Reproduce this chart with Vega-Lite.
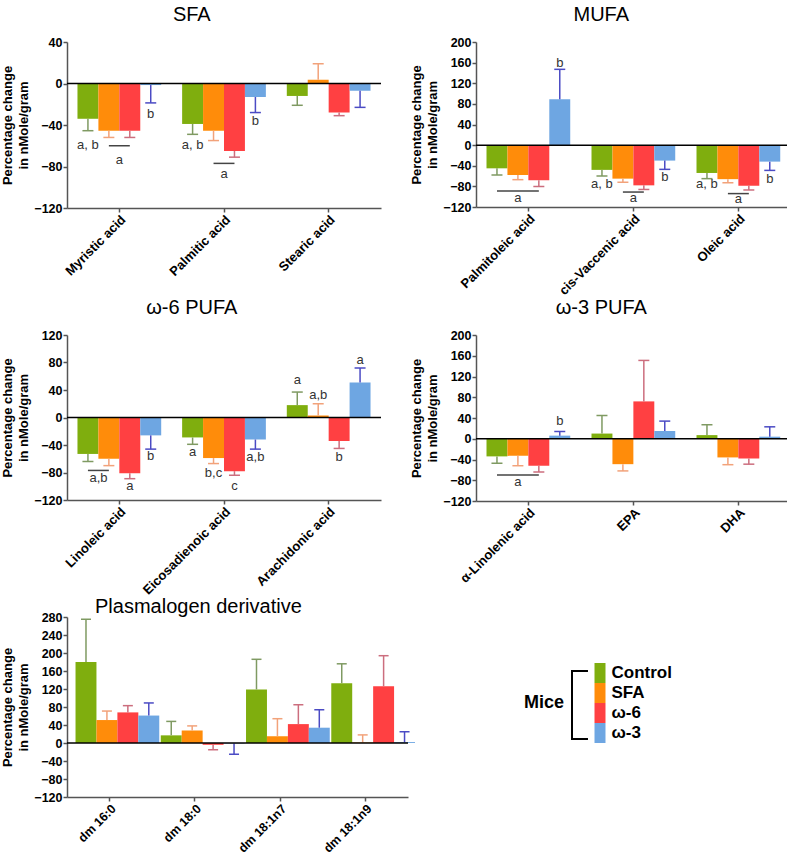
{
"$schema": "https://vega.github.io/schema/vega-lite/v6.json",
"background": "white",
"padding": {"left": 1, "top": 5, "right": 0, "bottom": 0},
"config": {
  "font": "Liberation Sans",
  "view": {"stroke": null},
  "title": {"font": "Liberation Sans", "fontSize": 20, "fontWeight": "normal", "color": "black", "offset": 11, "frame": "bounds"},
  "axis": {"labelFont": "Liberation Sans", "labelFontWeight": "bold", "labelFontSize": 12.5, "labelColor": "black", "labelOverlap": false, "labelPadding": 1, "titleFont": "Liberation Sans", "titleFontSize": 13, "titleFontWeight": "bold", "titleColor": "black", "domainColor": "#555", "domainWidth": 1.5, "tickColor": "#555", "tickWidth": 1.5, "tickSize": 4, "grid": false},
  "axisX": {"labelAngle": -45, "title": null, "labelFontSize": 13},
  "axisY": {"titleLineHeight": 16, "titlePadding": 3, "labelOverlap": false, "tickCount": 12},
  "text": {"font": "Liberation Sans", "fontSize": 13, "color": "#333"}
},
"resolve": {"scale": {"color": "independent", "shape": "independent"}, "legend": {"color": "independent", "shape": "independent"}},
"datasets": {
  "sfa": [
    {"acid": "Myristic acid", "group": "Control", "value": -34, "err": -45.5},
    {"acid": "Myristic acid", "group": "SFA", "value": -45.5, "err": -52},
    {"acid": "Myristic acid", "group": "ω-6", "value": -45.5, "err": -52},
    {"acid": "Myristic acid", "group": "ω-3", "value": -1.5, "err": -18.7},
    {"acid": "Palmitic acid", "group": "Control", "value": -39, "err": -49},
    {"acid": "Palmitic acid", "group": "SFA", "value": -45.5, "err": -55},
    {"acid": "Palmitic acid", "group": "ω-6", "value": -65, "err": -71},
    {"acid": "Palmitic acid", "group": "ω-3", "value": -13, "err": -28},
    {"acid": "Stearic acid", "group": "Control", "value": -12, "err": -21},
    {"acid": "Stearic acid", "group": "SFA", "value": 3.5, "err": 19},
    {"acid": "Stearic acid", "group": "ω-6", "value": -28, "err": -31},
    {"acid": "Stearic acid", "group": "ω-3", "value": -7, "err": -23}
  ],
  "sfa_txt": [
    {"acid": "Myristic acid", "group": "Control", "y": -59, "text": "a, b"},
    {"acid": "Myristic acid", "group": "ω-3", "y": -29, "text": "b"},
    {"acid": "Palmitic acid", "group": "Control", "y": -59, "text": "a, b"},
    {"acid": "Palmitic acid", "group": "ω-3", "y": -36.5, "text": "b"}
  ],
  "sfa_mid": [
    {"acid": "Myristic acid", "group": "SFA", "y": -73.5, "text": "a"},
    {"acid": "Palmitic acid", "group": "SFA", "y": -87, "text": "a"}
  ],
  "sfa_line": [
    {"acid": "Myristic acid", "group": "SFA", "y": -60, "id": 1},
    {"acid": "Myristic acid", "group": "ω-6", "y": -60, "id": 1},
    {"acid": "Palmitic acid", "group": "SFA", "y": -77, "id": 2},
    {"acid": "Palmitic acid", "group": "ω-6", "y": -77, "id": 2}
  ],
  "mufa": [
    {"acid": "Palmitoleic acid", "group": "Control", "value": -45, "err": -58},
    {"acid": "Palmitoleic acid", "group": "SFA", "value": -58, "err": -67},
    {"acid": "Palmitoleic acid", "group": "ω-6", "value": -68, "err": -80},
    {"acid": "Palmitoleic acid", "group": "ω-3", "value": 89, "err": 147},
    {"acid": "cis-Vaccenic acid", "group": "Control", "value": -48, "err": -60},
    {"acid": "cis-Vaccenic acid", "group": "SFA", "value": -65, "err": -72},
    {"acid": "cis-Vaccenic acid", "group": "ω-6", "value": -78, "err": -86},
    {"acid": "cis-Vaccenic acid", "group": "ω-3", "value": -30, "err": -47},
    {"acid": "Oleic acid", "group": "Control", "value": -54, "err": -65},
    {"acid": "Oleic acid", "group": "SFA", "value": -66, "err": -73},
    {"acid": "Oleic acid", "group": "ω-6", "value": -79, "err": -87},
    {"acid": "Oleic acid", "group": "ω-3", "value": -32, "err": -49}
  ],
  "mufa_txt": [
    {"acid": "Palmitoleic acid", "group": "ω-3", "y": 160, "text": "b"},
    {"acid": "Palmitoleic acid", "group": "SFA", "y": -102, "text": "a"},
    {"acid": "cis-Vaccenic acid", "group": "Control", "y": -75, "text": "a, b"},
    {"acid": "cis-Vaccenic acid", "group": "ω-3", "y": -62, "text": "b"},
    {"acid": "Oleic acid", "group": "Control", "y": -76, "text": "a, b"},
    {"acid": "Oleic acid", "group": "ω-3", "y": -65, "text": "b"}
  ],
  "mufa_mid": [
    {"acid": "cis-Vaccenic acid", "group": "SFA", "y": -102, "text": "a"},
    {"acid": "Oleic acid", "group": "SFA", "y": -105, "text": "a"}
  ],
  "mufa_line": [
    {"acid": "Palmitoleic acid", "group": "Control", "y": -89, "id": 1},
    {"acid": "Palmitoleic acid", "group": "ω-6", "y": -89, "id": 1},
    {"acid": "cis-Vaccenic acid", "group": "SFA", "y": -91, "id": 2},
    {"acid": "cis-Vaccenic acid", "group": "ω-6", "y": -91, "id": 2},
    {"acid": "Oleic acid", "group": "SFA", "y": -94, "id": 3},
    {"acid": "Oleic acid", "group": "ω-6", "y": -94, "id": 3}
  ],
  "w6": [
    {"acid": "Linoleic acid", "group": "Control", "value": -53, "err": -64},
    {"acid": "Linoleic acid", "group": "SFA", "value": -60, "err": -70},
    {"acid": "Linoleic acid", "group": "ω-6", "value": -81, "err": -89},
    {"acid": "Linoleic acid", "group": "ω-3", "value": -26, "err": -46},
    {"acid": "Eicosadienoic acid", "group": "Control", "value": -29, "err": -39},
    {"acid": "Eicosadienoic acid", "group": "SFA", "value": -59, "err": -67},
    {"acid": "Eicosadienoic acid", "group": "ω-6", "value": -78, "err": -84},
    {"acid": "Eicosadienoic acid", "group": "ω-3", "value": -32, "err": -46},
    {"acid": "Arachidonic acid", "group": "Control", "value": 18, "err": 37},
    {"acid": "Arachidonic acid", "group": "SFA", "value": 3, "err": 20},
    {"acid": "Arachidonic acid", "group": "ω-6", "value": -34, "err": -45},
    {"acid": "Arachidonic acid", "group": "ω-3", "value": 51, "err": 72}
  ],
  "w6_txt": [
    {"acid": "Linoleic acid", "group": "ω-6", "y": -100, "text": "a"},
    {"acid": "Linoleic acid", "group": "ω-3", "y": -56, "text": "b"},
    {"acid": "Eicosadienoic acid", "group": "Control", "y": -50, "text": "a"},
    {"acid": "Eicosadienoic acid", "group": "SFA", "y": -81, "text": "b,c"},
    {"acid": "Eicosadienoic acid", "group": "ω-6", "y": -100, "text": "c"},
    {"acid": "Eicosadienoic acid", "group": "ω-3", "y": -58, "text": "a,b"},
    {"acid": "Arachidonic acid", "group": "Control", "y": 54, "text": "a"},
    {"acid": "Arachidonic acid", "group": "SFA", "y": 33, "text": "a,b"},
    {"acid": "Arachidonic acid", "group": "ω-6", "y": -58, "text": "b"},
    {"acid": "Arachidonic acid", "group": "ω-3", "y": 83, "text": "a"}
  ],
  "w6_mid": [
    {"acid": "Linoleic acid", "group": "Control", "y": -88, "text": "a,b"}
  ],
  "w6_line": [
    {"acid": "Linoleic acid", "group": "Control", "y": -77, "id": 1},
    {"acid": "Linoleic acid", "group": "SFA", "y": -77, "id": 1}
  ],
  "w3": [
    {"acid": "α-Linolenic acid", "group": "Control", "value": -34, "err": -47},
    {"acid": "α-Linolenic acid", "group": "SFA", "value": -33, "err": -52},
    {"acid": "α-Linolenic acid", "group": "ω-6", "value": -52, "err": -64},
    {"acid": "α-Linolenic acid", "group": "ω-3", "value": 6, "err": 14},
    {"acid": "EPA", "group": "Control", "value": 10, "err": 45},
    {"acid": "EPA", "group": "SFA", "value": -49, "err": -62},
    {"acid": "EPA", "group": "ω-6", "value": 72, "err": 151},
    {"acid": "EPA", "group": "ω-3", "value": 15, "err": 34},
    {"acid": "DHA", "group": "Control", "value": 7, "err": 27},
    {"acid": "DHA", "group": "SFA", "value": -36, "err": -50},
    {"acid": "DHA", "group": "ω-6", "value": -38, "err": -49},
    {"acid": "DHA", "group": "ω-3", "value": 4, "err": 23}
  ],
  "w3_txt": [
    {"acid": "α-Linolenic acid", "group": "SFA", "y": -83, "text": "a"},
    {"acid": "α-Linolenic acid", "group": "ω-3", "y": 35, "text": "b"}
  ],
  "w3_line": [
    {"acid": "α-Linolenic acid", "group": "Control", "y": -70, "id": 1},
    {"acid": "α-Linolenic acid", "group": "ω-6", "y": -70, "id": 1}
  ],
  "plas": [
    {"acid": "dm 16:0", "group": "Control", "value": 180, "err": 275},
    {"acid": "dm 16:0", "group": "SFA", "value": 51, "err": 71},
    {"acid": "dm 16:0", "group": "ω-6", "value": 68, "err": 83},
    {"acid": "dm 16:0", "group": "ω-3", "value": 61, "err": 89},
    {"acid": "dm 18:0", "group": "Control", "value": 17, "err": 48},
    {"acid": "dm 18:0", "group": "SFA", "value": 28, "err": 38},
    {"acid": "dm 18:0", "group": "ω-6", "value": -4, "err": -15},
    {"acid": "dm 18:0", "group": "ω-3", "value": -1, "err": -25},
    {"acid": "dm 18:1n7", "group": "Control", "value": 119, "err": 186},
    {"acid": "dm 18:1n7", "group": "SFA", "value": 15, "err": 54},
    {"acid": "dm 18:1n7", "group": "ω-6", "value": 42, "err": 85},
    {"acid": "dm 18:1n7", "group": "ω-3", "value": 34, "err": 74},
    {"acid": "dm 18:1n9", "group": "Control", "value": 133, "err": 176},
    {"acid": "dm 18:1n9", "group": "SFA", "value": 1, "err": 18},
    {"acid": "dm 18:1n9", "group": "ω-6", "value": 126, "err": 194},
    {"acid": "dm 18:1n9", "group": "ω-3", "value": 2, "err": 25}
  ],
  "mice": [{"label": "Mice"}]
},
"spacing": 0,
"vconcat": [
  {"hconcat": [
    {"title": {"text": "SFA"}, "width": 314, "height": 166,
     "layer": [
      {"data": {"name": "sfa"}, "mark": "bar", "encoding": {
        "x": {"field": "acid", "type": "nominal", "scale": {"domain": ["Myristic acid", "Palmitic acid", "Stearic acid"], "paddingInner": 0.2, "paddingOuter": 0.1}},
        "xOffset": {"field": "group", "type": "nominal", "scale": {"domain": ["Control", "SFA", "ω-6", "ω-3"]}},
        "y": {"field": "value", "type": "quantitative", "scale": {"domain": [-120, 40], "nice": false}, "axis": {"values": [-120, -80, -40, 0, 40], "tickCount": 12, "labelOverlap": false, "title": ["Percentage change", "in nMole/gram"]}},
        "color": {"field": "group", "type": "nominal", "scale": {"domain": ["Control", "SFA", "ω-6", "ω-3"], "range": ["#7fae0e", "#ff8c0a", "#ff4042", "#6ea6e2"]}, "legend": null}}},
      {"data": {"name": "sfa"}, "mark": {"type": "rule", "strokeWidth": 1.5}, "encoding": {
        "x": {"field": "acid", "type": "nominal"}, "xOffset": {"field": "group", "type": "nominal"},
        "y": {"field": "value", "type": "quantitative"}, "y2": {"field": "err"},
        "stroke": {"field": "group", "type": "nominal", "scale": {"domain": ["Control", "SFA", "ω-6", "ω-3"], "range": ["#7f9a62", "#f2a27a", "#cc6e7e", "#4b4bc4"]}, "legend": null}}},
      {"data": {"name": "sfa"}, "mark": {"type": "tick", "orient": "horizontal", "size": 11, "thickness": 1.5, "opacity": 1}, "encoding": {
        "x": {"field": "acid", "type": "nominal"}, "xOffset": {"field": "group", "type": "nominal"},
        "y": {"field": "err", "type": "quantitative"},
        "fill": {"field": "group", "type": "nominal", "scale": {"domain": ["Control", "SFA", "ω-6", "ω-3"], "range": ["#7f9a62", "#f2a27a", "#cc6e7e", "#4b4bc4"]}, "legend": null}}},
      {"data": {"values": [{}]}, "mark": {"type": "rule", "color": "black", "strokeWidth": 1.5}, "encoding": {"y": {"datum": 0}}},
      {"data": {"name": "sfa_txt"}, "mark": {"type": "text"}, "encoding": {
        "x": {"field": "acid", "type": "nominal"}, "xOffset": {"field": "group", "type": "nominal"},
        "y": {"field": "y", "type": "quantitative"}, "text": {"field": "text"}}},
      {"data": {"name": "sfa_mid"}, "mark": {"type": "text", "dx": 10.5}, "encoding": {
        "x": {"field": "acid", "type": "nominal"}, "xOffset": {"field": "group", "type": "nominal"},
        "y": {"field": "y", "type": "quantitative"}, "text": {"field": "text"}}},
      {"data": {"name": "sfa_line"}, "mark": {"type": "line", "color": "#444", "strokeWidth": 1.5}, "encoding": {
        "x": {"field": "acid", "type": "nominal"}, "xOffset": {"field": "group", "type": "nominal"},
        "y": {"field": "y", "type": "quantitative"}, "detail": {"field": "id"}}}
     ]},
    {"title": {"text": "MUFA"}, "width": 315, "height": 165,
     "layer": [
      {"data": {"name": "mufa"}, "mark": "bar", "encoding": {
        "x": {"field": "acid", "type": "nominal", "scale": {"domain": ["Palmitoleic acid", "cis-Vaccenic acid", "Oleic acid"], "paddingInner": 0.2, "paddingOuter": 0.1}},
        "xOffset": {"field": "group", "type": "nominal", "scale": {"domain": ["Control", "SFA", "ω-6", "ω-3"]}},
        "y": {"field": "value", "type": "quantitative", "scale": {"domain": [-120, 200], "nice": false}, "axis": {"values": [-120, -80, -40, 0, 40, 80, 120, 160, 200], "tickCount": 12, "labelOverlap": false, "title": ["Percentage change", "in nMole/gram"]}},
        "color": {"field": "group", "type": "nominal", "scale": {"domain": ["Control", "SFA", "ω-6", "ω-3"], "range": ["#7fae0e", "#ff8c0a", "#ff4042", "#6ea6e2"]}, "legend": null}}},
      {"data": {"name": "mufa"}, "mark": {"type": "rule", "strokeWidth": 1.5}, "encoding": {
        "x": {"field": "acid", "type": "nominal"}, "xOffset": {"field": "group", "type": "nominal"},
        "y": {"field": "value", "type": "quantitative"}, "y2": {"field": "err"},
        "stroke": {"field": "group", "type": "nominal", "scale": {"domain": ["Control", "SFA", "ω-6", "ω-3"], "range": ["#7f9a62", "#f2a27a", "#cc6e7e", "#4b4bc4"]}, "legend": null}}},
      {"data": {"name": "mufa"}, "mark": {"type": "tick", "orient": "horizontal", "size": 11, "thickness": 1.5, "opacity": 1}, "encoding": {
        "x": {"field": "acid", "type": "nominal"}, "xOffset": {"field": "group", "type": "nominal"},
        "y": {"field": "err", "type": "quantitative"},
        "fill": {"field": "group", "type": "nominal", "scale": {"domain": ["Control", "SFA", "ω-6", "ω-3"], "range": ["#7f9a62", "#f2a27a", "#cc6e7e", "#4b4bc4"]}, "legend": null}}},
      {"data": {"values": [{}]}, "mark": {"type": "rule", "color": "black", "strokeWidth": 1.5}, "encoding": {"y": {"datum": 0}}},
      {"data": {"name": "mufa_txt"}, "mark": {"type": "text"}, "encoding": {
        "x": {"field": "acid", "type": "nominal"}, "xOffset": {"field": "group", "type": "nominal"},
        "y": {"field": "y", "type": "quantitative"}, "text": {"field": "text"}}},
      {"data": {"name": "mufa_mid"}, "mark": {"type": "text", "dx": 10.5}, "encoding": {
        "x": {"field": "acid", "type": "nominal"}, "xOffset": {"field": "group", "type": "nominal"},
        "y": {"field": "y", "type": "quantitative"}, "text": {"field": "text"}}},
      {"data": {"name": "mufa_line"}, "mark": {"type": "line", "color": "#444", "strokeWidth": 1.5}, "encoding": {
        "x": {"field": "acid", "type": "nominal"}, "xOffset": {"field": "group", "type": "nominal"},
        "y": {"field": "y", "type": "quantitative"}, "detail": {"field": "id"}}}
     ]}
  ], "spacing": 28},
  {"hconcat": [
    {"title": {"text": "ω-6 PUFA"}, "width": 314, "height": 165,
     "layer": [
      {"data": {"name": "w6"}, "mark": "bar", "encoding": {
        "x": {"field": "acid", "type": "nominal", "scale": {"domain": ["Linoleic acid", "Eicosadienoic acid", "Arachidonic acid"], "paddingInner": 0.2, "paddingOuter": 0.1}},
        "xOffset": {"field": "group", "type": "nominal", "scale": {"domain": ["Control", "SFA", "ω-6", "ω-3"]}},
        "y": {"field": "value", "type": "quantitative", "scale": {"domain": [-120, 120], "nice": false}, "axis": {"values": [-120, -80, -40, 0, 40, 80, 120], "tickCount": 12, "labelOverlap": false, "title": ["Percentage change", "in nMole/gram"]}},
        "color": {"field": "group", "type": "nominal", "scale": {"domain": ["Control", "SFA", "ω-6", "ω-3"], "range": ["#7fae0e", "#ff8c0a", "#ff4042", "#6ea6e2"]}, "legend": null}}},
      {"data": {"name": "w6"}, "mark": {"type": "rule", "strokeWidth": 1.5}, "encoding": {
        "x": {"field": "acid", "type": "nominal"}, "xOffset": {"field": "group", "type": "nominal"},
        "y": {"field": "value", "type": "quantitative"}, "y2": {"field": "err"},
        "stroke": {"field": "group", "type": "nominal", "scale": {"domain": ["Control", "SFA", "ω-6", "ω-3"], "range": ["#7f9a62", "#f2a27a", "#cc6e7e", "#4b4bc4"]}, "legend": null}}},
      {"data": {"name": "w6"}, "mark": {"type": "tick", "orient": "horizontal", "size": 11, "thickness": 1.5, "opacity": 1}, "encoding": {
        "x": {"field": "acid", "type": "nominal"}, "xOffset": {"field": "group", "type": "nominal"},
        "y": {"field": "err", "type": "quantitative"},
        "fill": {"field": "group", "type": "nominal", "scale": {"domain": ["Control", "SFA", "ω-6", "ω-3"], "range": ["#7f9a62", "#f2a27a", "#cc6e7e", "#4b4bc4"]}, "legend": null}}},
      {"data": {"values": [{}]}, "mark": {"type": "rule", "color": "black", "strokeWidth": 1.5}, "encoding": {"y": {"datum": 0}}},
      {"data": {"name": "w6_txt"}, "mark": {"type": "text"}, "encoding": {
        "x": {"field": "acid", "type": "nominal"}, "xOffset": {"field": "group", "type": "nominal"},
        "y": {"field": "y", "type": "quantitative"}, "text": {"field": "text"}}},
      {"data": {"name": "w6_mid"}, "mark": {"type": "text", "dx": 10.5}, "encoding": {
        "x": {"field": "acid", "type": "nominal"}, "xOffset": {"field": "group", "type": "nominal"},
        "y": {"field": "y", "type": "quantitative"}, "text": {"field": "text"}}},
      {"data": {"name": "w6_line"}, "mark": {"type": "line", "color": "#444", "strokeWidth": 1.5}, "encoding": {
        "x": {"field": "acid", "type": "nominal"}, "xOffset": {"field": "group", "type": "nominal"},
        "y": {"field": "y", "type": "quantitative"}, "detail": {"field": "id"}}}
     ]},
    {"title": {"text": "ω-3 PUFA"}, "width": 315, "height": 166,
     "layer": [
      {"data": {"name": "w3"}, "mark": "bar", "encoding": {
        "x": {"field": "acid", "type": "nominal", "scale": {"domain": ["α-Linolenic acid", "EPA", "DHA"], "paddingInner": 0.2, "paddingOuter": 0.1}},
        "xOffset": {"field": "group", "type": "nominal", "scale": {"domain": ["Control", "SFA", "ω-6", "ω-3"]}},
        "y": {"field": "value", "type": "quantitative", "scale": {"domain": [-120, 200], "nice": false}, "axis": {"values": [-120, -80, -40, 0, 40, 80, 120, 160, 200], "tickCount": 12, "labelOverlap": false, "title": ["Percentage change", "in nMole/gram"]}},
        "color": {"field": "group", "type": "nominal", "scale": {"domain": ["Control", "SFA", "ω-6", "ω-3"], "range": ["#7fae0e", "#ff8c0a", "#ff4042", "#6ea6e2"]}, "legend": null}}},
      {"data": {"name": "w3"}, "mark": {"type": "rule", "strokeWidth": 1.5}, "encoding": {
        "x": {"field": "acid", "type": "nominal"}, "xOffset": {"field": "group", "type": "nominal"},
        "y": {"field": "value", "type": "quantitative"}, "y2": {"field": "err"},
        "stroke": {"field": "group", "type": "nominal", "scale": {"domain": ["Control", "SFA", "ω-6", "ω-3"], "range": ["#7f9a62", "#f2a27a", "#cc6e7e", "#4b4bc4"]}, "legend": null}}},
      {"data": {"name": "w3"}, "mark": {"type": "tick", "orient": "horizontal", "size": 11, "thickness": 1.5, "opacity": 1}, "encoding": {
        "x": {"field": "acid", "type": "nominal"}, "xOffset": {"field": "group", "type": "nominal"},
        "y": {"field": "err", "type": "quantitative"},
        "fill": {"field": "group", "type": "nominal", "scale": {"domain": ["Control", "SFA", "ω-6", "ω-3"], "range": ["#7f9a62", "#f2a27a", "#cc6e7e", "#4b4bc4"]}, "legend": null}}},
      {"data": {"values": [{}]}, "mark": {"type": "rule", "color": "black", "strokeWidth": 1.5}, "encoding": {"y": {"datum": 0}}},
      {"data": {"name": "w3_txt"}, "mark": {"type": "text"}, "encoding": {
        "x": {"field": "acid", "type": "nominal"}, "xOffset": {"field": "group", "type": "nominal"},
        "y": {"field": "y", "type": "quantitative"}, "text": {"field": "text"}}},
      {"data": {"name": "w3_line"}, "mark": {"type": "line", "color": "#444", "strokeWidth": 1.5}, "encoding": {
        "x": {"field": "acid", "type": "nominal"}, "xOffset": {"field": "group", "type": "nominal"},
        "y": {"field": "y", "type": "quantitative"}, "detail": {"field": "id"}}}
     ]}
  ], "spacing": 28},
  {"title": {"text": "Plasmalogen derivative", "offset": -6, "frame": "group", "anchor": "start", "dx": 28}, "width": 341, "height": 180,
   "layer": [
    {"data": {"name": "plas"}, "mark": "bar", "encoding": {
      "x": {"field": "acid", "type": "nominal", "scale": {"domain": ["dm 16:0", "dm 18:0", "dm 18:1n7", "dm 18:1n9"], "paddingInner": 0.2, "paddingOuter": 0.1}, "axis": {"labelFontSize": 12.5}},
      "xOffset": {"field": "group", "type": "nominal", "scale": {"domain": ["Control", "SFA", "ω-6", "ω-3"]}},
      "y": {"field": "value", "type": "quantitative", "scale": {"domain": [-120, 280], "nice": false}, "axis": {"values": [-120, -80, -40, 0, 40, 80, 120, 160, 200, 240, 280], "tickCount": 12, "labelOverlap": false, "title": ["Percentage change", "in nMole/gram"]}},
      "color": {"field": "group", "type": "nominal", "scale": {"domain": ["Control", "SFA", "ω-6", "ω-3"], "range": ["#7fae0e", "#ff8c0a", "#ff4042", "#6ea6e2"]},
        "legend": {"orient": "none", "legendX": 457, "legendY": 46, "direction": "vertical", "title": "Mice", "titleOrient": "left", "titleAnchor": "middle", "titleBaseline": "middle", "titleFont": "Liberation Sans", "titleFontSize": 18, "titleFontWeight": "bold", "titleColor": "black", "titlePadding": 25, "labelFont": "Liberation Sans", "labelFontSize": 17, "labelFontWeight": "bold", "labelColor": "black", "labelOffset": 1.5, "symbolType": "M-0.55,-1H0.55V1H-0.55Z", "symbolSize": 400, "symbolStrokeWidth": 0, "rowPadding": 0}}}},
    {"data": {"name": "plas"}, "mark": {"type": "rule", "strokeWidth": 1.5}, "encoding": {
      "x": {"field": "acid", "type": "nominal"}, "xOffset": {"field": "group", "type": "nominal"},
      "y": {"field": "value", "type": "quantitative"}, "y2": {"field": "err"},
      "stroke": {"field": "group", "type": "nominal", "scale": {"domain": ["Control", "SFA", "ω-6", "ω-3"], "range": ["#7f9a62", "#f2a27a", "#cc6e7e", "#4b4bc4"]}, "legend": null}}},
    {"data": {"name": "plas"}, "mark": {"type": "tick", "orient": "horizontal", "size": 10, "thickness": 1.5, "opacity": 1}, "encoding": {
      "x": {"field": "acid", "type": "nominal"}, "xOffset": {"field": "group", "type": "nominal"},
      "y": {"field": "err", "type": "quantitative"},
      "fill": {"field": "group", "type": "nominal", "scale": {"domain": ["Control", "SFA", "ω-6", "ω-3"], "range": ["#7f9a62", "#f2a27a", "#cc6e7e", "#4b4bc4"]}, "legend": null}}},
    {"data": {"values": [{}]}, "mark": {"type": "rule", "color": "black", "strokeWidth": 1.5}, "encoding": {"y": {"datum": 0}}},
    {"data": {"name": "mice"}, "mark": {"type": "point", "size": 0, "filled": false, "color": "black"}, "encoding": {
      "shape": {"field": "label", "type": "nominal", "scale": {"range": ["M0.47,-1H0V1H0.47"]},
        "legend": {"orient": "none", "legendX": 470, "legendY": 53, "title": null, "labelExpr": "''", "symbolSize": 4624, "symbolStrokeColor": "black", "symbolStrokeWidth": 2, "symbolFillColor": "transparent", "symbolOpacity": 1}}}}
   ]}
]
}
